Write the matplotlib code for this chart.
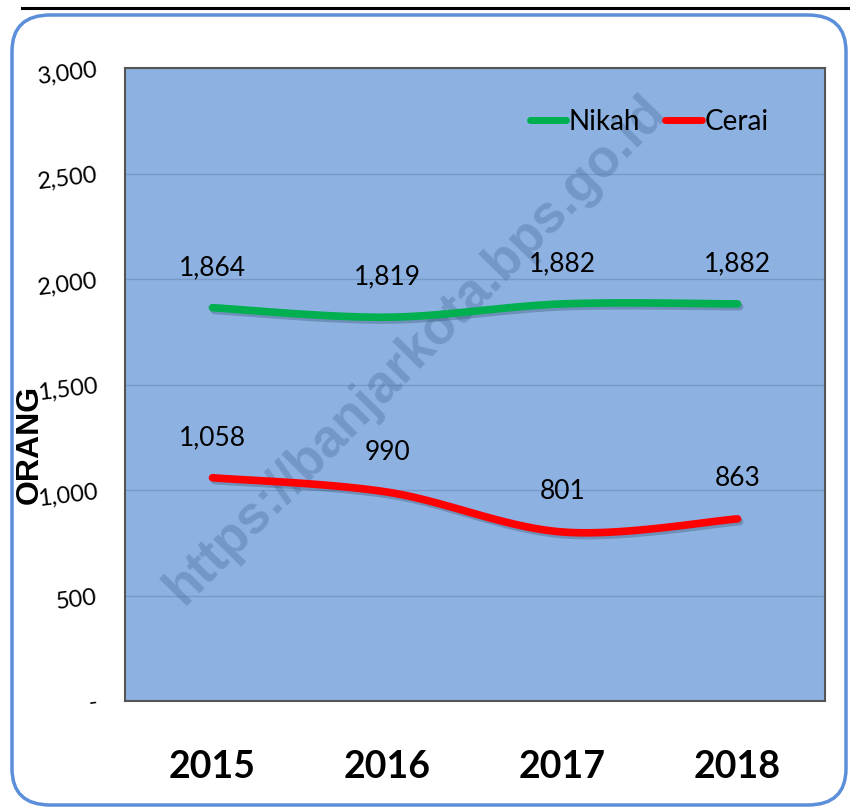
import numpy as np
import matplotlib
matplotlib.use("Agg")
import matplotlib.pyplot as plt
import matplotlib.patheffects as pe
from matplotlib.patches import FancyBboxPatch
from matplotlib.lines import Line2D

years = ["2015", "2016", "2017", "2018"]
nikah = [1864, 1819, 1882, 1882]
cerai = [1058, 990, 801, 863]
yticks = [0, 500, 1000, 1500, 2000, 2500, 3000]
ytick_labels = ["-", "500", "1,000", "1,500", "2,000", "2,500", "3,000"]

FONT = ["Lato", "DejaVu Sans"]
plt.rcParams["font.family"] = FONT


def smooth(xs, ys, n=40):
	# catmull-rom like excel "smoothed line"
	xs = np.asarray(xs, float)
	ys = np.asarray(ys, float)
	px = np.concatenate([[xs[0]], xs, [xs[-1]]])
	py = np.concatenate([[ys[0]], ys, [ys[-1]]])
	outx, outy = [], []
	for i in range(1, len(px) - 2):
		t = np.linspace(0, 1, n)
		x0, x1, x2, x3 = px[i-1], px[i], px[i+1], px[i+2]
		y0, y1, y2, y3 = py[i-1], py[i], py[i+1], py[i+2]
		c1x, c1y = x1 + (x2 - x0) / 6, y1 + (y2 - y0) / 6
		c2x, c2y = x2 - (x3 - x1) / 6, y2 - (y3 - y1) / 6
		bx = (1-t)**3*x1 + 3*(1-t)**2*t*c1x + 3*(1-t)*t**2*c2x + t**3*x2
		by = (1-t)**3*y1 + 3*(1-t)**2*t*c1y + 3*(1-t)*t**2*c2y + t**3*y2
		outx.extend(bx)
		outy.extend(by)
	return np.array(outx), np.array(outy)


fig = plt.figure(figsize=(8.5, 8.08), dpi=100)

# outer rounded frame and top rule
frame = FancyBboxPatch((12/850, 3/808), 834/850, 790/808,
	boxstyle="round,pad=0,rounding_size=0.045", transform=fig.transFigure,
	facecolor="white", edgecolor="#5B8FD9", linewidth=2.5, zorder=-5)
fig.patches.append(frame)
fig.add_artist(Line2D([22/850, 1.0], [1 - 8/808, 1 - 8/808], color="black", lw=2.2,
	transform=fig.transFigure))

ax = fig.add_axes([125/850, 1 - 701/808, 700/850, 633/808])
ax.set_zorder(2)
ax.set_facecolor("#8DB1E1")
ax.set_xlim(-0.5, 3.5)
ax.set_ylim(0, 3000)

x = np.arange(len(years))
shadow = [pe.SimpleLineShadow(offset=(1.5, -2), shadow_color="#33506e", alpha=0.35), pe.Normal()]
for vals, col, lab in [(nikah, "#00B050", "Nikah"), (cerai, "#FF0000", "Cerai")]:
	sx, sy = smooth(x, vals)
	ax.plot(sx, sy, color=col, lw=5.5, solid_capstyle="round", path_effects=shadow, zorder=3, label=lab)
	for xi, v in zip(x, vals):
		ax.annotate(f"{v:,}", (xi, v), xytext=(0, 40), textcoords="offset pixels",
			ha="center", va="center", fontsize=19, color="black", zorder=4)

ax.set_yticks(yticks)
ax.set_yticklabels(ytick_labels, rotation=7, fontsize=17)
ax.tick_params(axis="y", length=0, pad=19)
ax.set_xticks(x)
ax.set_xticklabels(years, fontsize=27, fontweight="bold")
ax.tick_params(axis="x", length=0, pad=35)
ax.grid(axis="y", color="#7899C6", lw=1)
ax.set_axisbelow(True)
for s in ax.spines.values():
	s.set_color("#555555")
	s.set_linewidth(1.5)

ax.set_ylabel("ORANG", fontsize=23, fontweight="bold", family=["Liberation Sans", "DejaVu Sans"])
ax.yaxis.set_label_coords(-0.114, 0.406)

ax.text(0.415, 0.555, "https://banjarkota.bps.go.id", transform=ax.transAxes, rotation=45.5,
	ha="center", va="center", fontsize=38, fontweight="bold", color="#4A6E9E", alpha=0.38,
	family=["Liberation Sans", "DejaVu Sans"], zorder=2)

leg = ax.legend(loc="upper right", bbox_to_anchor=(0.955, 0.975), ncol=2, frameon=False,
	fontsize=20, handlelength=1.3, handletextpad=0.1, columnspacing=0.9)
for h in leg.get_lines():
	h.set_linewidth(5)
	h.set_path_effects([])

fig.savefig("out.png", dpi=100)
